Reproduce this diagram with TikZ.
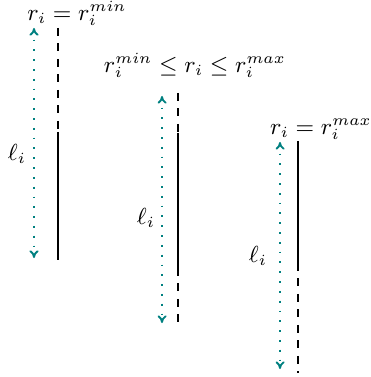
\documentclass[tikz,border=0pt]{standalone}
\usetikzlibrary{arrows.meta}
\begin{document}
\begin{tikzpicture}[x=0.3875pt,y=-0.3875pt,
  seg/.style={line width=0.5pt,black},
  segdash/.style={seg,dash pattern=on 3pt off 3pt},
  lenarrow/.style={teal,line width=0.7pt,dash pattern=on 0.7pt off 3.1pt,{To[length=3pt,width=3.5pt]}-{To[length=3pt,width=3.5pt]}},
  lbl/.style={inner sep=0pt,font=\fontsize{9}{11}\selectfont}]
\useasboundingbox (0,0) rectangle (371,377);
% column 1: r_i = r_i^min
\node[lbl,anchor=base] (t1) at (77,21) {$r_i = r_i^{min}$};
\coordinate (a1) at (58,28);
\coordinate (b1) at (58,132);
\coordinate (c1) at (58,260);
\draw[segdash] (a1) -- (b1);
\draw[seg] (b1) -- (c1);
\coordinate (p1) at (34,28);
\coordinate (q1) at (34,258);
\draw[lenarrow] (p1) -- (q1);
\node[lbl] (l1) at (17,154) {$\ell_i$};
% column 2: r_i^min <= r_i <= r_i^max
\node[lbl,anchor=base] (t2) at (195,73) {$r_i^{min} \leq r_i \leq r_i^{max}$};
\coordinate (a2) at (178,93);
\coordinate (b2) at (178,133);
\coordinate (c2) at (178,268);
\coordinate (d2) at (178,325);
\draw[segdash] (a2) -- (b2);
\draw[seg] (b2) -- (c2);
\draw[segdash] (c2) -- (d2);
\coordinate (p2) at (162,96);
\coordinate (q2) at (162,323);
\draw[lenarrow] (p2) -- (q2);
\node[lbl] (l2) at (146,218) {$\ell_i$};
% column 3: r_i = r_i^max
\node[lbl,anchor=base] (t3) at (321,135) {$r_i = r_i^{max}$};
\coordinate (b3) at (298,141);
\coordinate (c3) at (298,263);
\coordinate (d3) at (298,373);
\draw[seg] (b3) -- (c3);
\draw[segdash] (c3) -- (d3);
\coordinate (p3) at (280,142);
\coordinate (q3) at (280,369);
\draw[lenarrow] (p3) -- (q3);
\node[lbl] (l3) at (258,256) {$\ell_i$};
\end{tikzpicture}
\end{document}
